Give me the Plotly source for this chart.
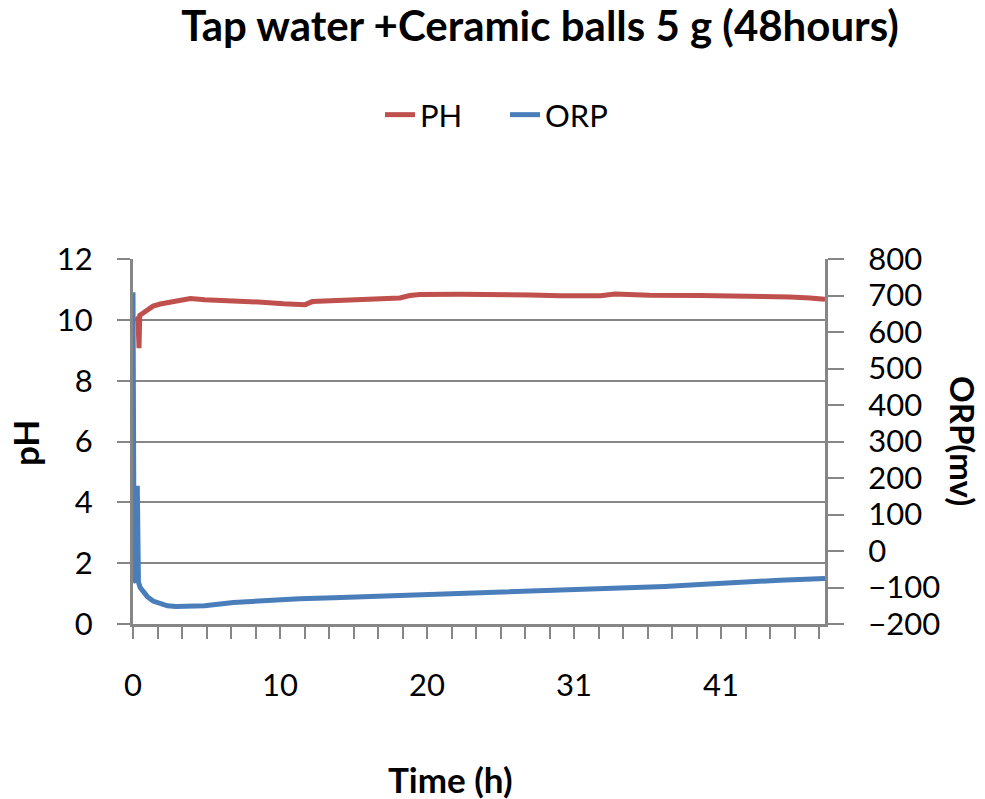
import numpy as np
import plotly.graph_objects as go

# ---- data ----
ph_time = [0.15, 0.35, 0.42, 0.47, 0.63, 0.98, 1.4, 1.9, 2.6, 4.0, 5.0, 7.0, 9.0, 10.5,
           12.0, 12.5, 15.0, 17.0, 18.6, 19.3, 20.0, 22.8, 25.6, 27.7, 29.8, 32.6, 33.6,
           36.0, 39.5, 43.7, 45.8, 47.2, 48.25]
ph_values = [10.05, 10.0, 9.07, 10.15, 10.2, 10.3, 10.45, 10.52, 10.58, 10.7, 10.66, 10.63,
             10.58, 10.53, 10.5, 10.6, 10.66, 10.7, 10.72, 10.8, 10.83, 10.84, 10.84, 10.82,
             10.79, 10.79, 10.85, 10.81, 10.8, 10.79, 10.75, 10.72, 10.68]

orp_time = [0.0, 0.08, 0.2, 0.3, 0.38, 0.5, 0.7, 1.0, 1.4, 1.9, 2.4, 3.0, 4.0, 5.0, 7.0,
            9.0, 11.6, 14.0, 16.5, 18.6, 20.0, 22.1, 24.9, 28.7, 32.6, 34.7, 37.1, 39.5,
            42.0, 45.1, 48.25]
orp_values = [709, -80, -85, 179, -85, -100, -110, -125, -137, -145, -150, -152, -152, -150,
              -141, -136, -131, -128, -125, -122, -119, -116, -112, -108, -104, -101, -97,
              -92, -86, -80, -75]

x_tick_labels = ["0", "10", "20", "31", "41"]
x_label_step = 10.25      # hours between labelled ticks
x_minor_per_label = 6
x_max = 48.25

title_text = "Tap water +Ceramic balls 5 g (48hours)"

# ---- styling ----
GRAY = "#868686"
RED = "#C0504D"
BLUE = "#4A7EBB"
FONT = "Lato"

step = x_label_step / x_minor_per_label
tickvals = list(np.arange(0, x_max, step))
ticktext = []
for i in range(len(tickvals)):
    if i % x_minor_per_label == 0 and i // x_minor_per_label < len(x_tick_labels):
        ticktext.append(x_tick_labels[i // x_minor_per_label])
    else:
        ticktext.append("")

fig = go.Figure()
fig.add_trace(go.Scatter(x=ph_time, y=ph_values, name="PH", mode="lines",
                         line=dict(color=RED, width=5), yaxis="y"))
fig.add_trace(go.Scatter(x=orp_time, y=orp_values, name="ORP", mode="lines",
                         line=dict(color=BLUE, width=5), yaxis="y2"))

L, R, T, B = 133, 160, 259, 175
W, H = 985, 799
pw, ph = W - L - R, H - T - B

def px_x(px):
    return (px - L) / pw

def px_y(py):
    return (H - B - py) / ph

tickfont = dict(family=FONT, size=31, color="black")
boldfont = dict(family=FONT, size=35, color="black", weight="bold")

fig.update_layout(
    width=W, height=H,
    margin=dict(l=L, r=R, t=T, b=B),
    paper_bgcolor="white", plot_bgcolor="white",
    title=dict(text=title_text, x=540 / W, xref="container", xanchor="center",
               y=1 - 26 / H, yref="container", yanchor="middle",
               font=dict(family=FONT, size=42, color="black", weight="bold")),
    legend=dict(orientation="h", x=380 / W, xref="container", xanchor="left",
                y=1 - 115 / H, yref="container", yanchor="middle",
                font=dict(family=FONT, size=31, color="black"),
                entrywidth=80, entrywidthmode="pixels",
                bgcolor="rgba(0,0,0,0)"),
    xaxis=dict(range=[0, x_max], tickmode="array", tickvals=tickvals, ticktext=ticktext,
               ticks="outside", ticklen=12, tickwidth=2, tickcolor=GRAY,
               showline=True, linecolor=GRAY, linewidth=3, showgrid=False,
               zeroline=False, tickfont=tickfont, ticklabelstandoff=20),
    yaxis=dict(range=[0, 12], dtick=2, tick0=0, ticks="outside", ticklen=13,
               tickwidth=2, tickcolor=GRAY, showline=True, linecolor=GRAY,
               linewidth=3, showgrid=True, gridcolor=GRAY, gridwidth=2,
               zeroline=False, tickfont=tickfont, ticklabelstandoff=18),
    yaxis2=dict(range=[-200, 800], dtick=100, tick0=0, overlaying="y", side="right",
                ticks="outside", ticklen=16, tickwidth=2, tickcolor=GRAY,
                showline=True, linecolor=GRAY, linewidth=3, showgrid=False,
                zeroline=False, tickfont=tickfont, ticklabelstandoff=18),
    annotations=[
        dict(text="pH", x=px_x(25), y=px_y(443), xref="paper", yref="paper",
             showarrow=False, textangle=-90, font=boldfont,
             xanchor="center", yanchor="middle"),
        dict(text="ORP(mv)", x=px_x(963), y=px_y(441), xref="paper", yref="paper",
             showarrow=False, textangle=90, font=dict(family=FONT, size=33, color="black", weight="bold"),
             xanchor="center", yanchor="middle"),
        dict(text="Time (h)", x=px_x(450), y=px_y(779), xref="paper", yref="paper",
             showarrow=False, font=boldfont, xanchor="center", yanchor="middle"),
    ],
)

fig.write_html("out.html")
